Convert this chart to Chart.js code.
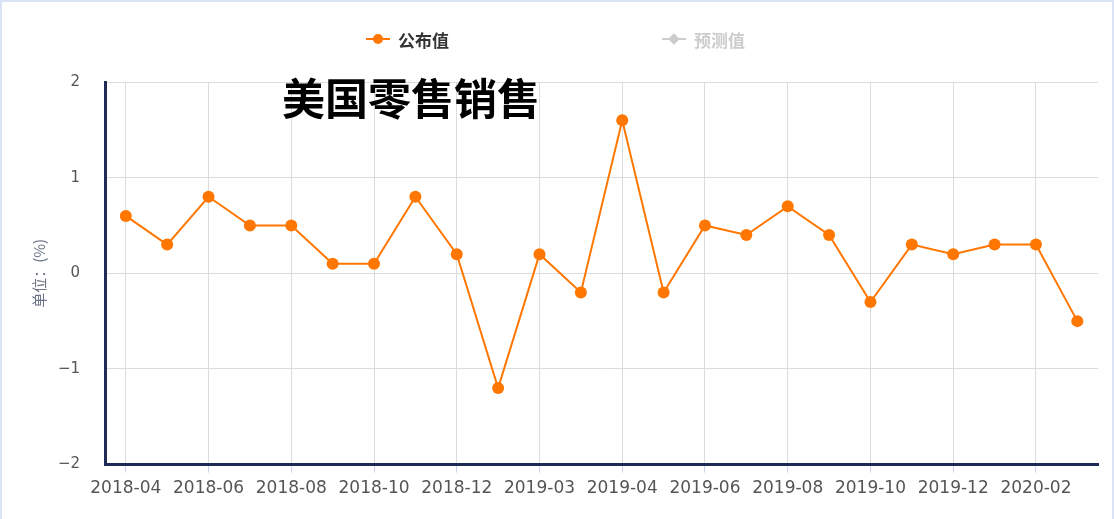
<!DOCTYPE html>
<html>
<head>
<meta charset="utf-8">
<script src="https://cdn.jsdelivr.net/npm/chart.js@4"></script>
<style>
  html, body { margin: 0; padding: 0; background: #fff; }
  #wrap {
    position: relative; width: 1114px; height: 519px; box-sizing: border-box;
    border: 2px solid #dbe3f6; border-bottom: none; overflow: hidden;
  }
  #box { position: absolute; left: -2px; top: -2px; width: 1114px; height: 519px; }
  #title {
    position: absolute; left: 280px; top: 72px; font: bold 43px "Noto Sans CJK SC", sans-serif;
    line-height: 44px; color: #000; white-space: nowrap;
  }
  .leg { position: absolute; top: 26px; height: 22px; display: flex; align-items: center;
    font: bold 17px "Noto Sans CJK SC", sans-serif; white-space: nowrap; }
  .mk { position: relative; width: 24px; height: 14px; margin-right: 8px; }
  .mk .ln { position: absolute; left: 0; right: 0; top: 6px; height: 2px; }
  .mk .dot { position: absolute; left: 7px; top: 2px; width: 10px; height: 10px; border-radius: 50%; }
  .mk .dia { position: absolute; left: 8px; top: 3px; width: 8px; height: 8px; transform: rotate(45deg); }
</style>
</head>
<body>
<div id="wrap">
  <div id="box"><canvas id="chart"></canvas></div>
  <div class="leg" style="left:364px;color:#333">
    <div class="mk"><div class="ln" style="background:#ff7700"></div><div class="dot" style="background:#ff7700"></div></div>公布值
  </div>
  <div class="leg" style="left:660px;color:#ccc">
    <div class="mk"><div class="ln" style="background:#ccc"></div><div class="dia" style="background:#ccc"></div></div>预测值
  </div>
  <div id="title">美国零售销售</div>
</div>
<script>
var months = ['2018-04', '2018-05', '2018-06', '2018-07', '2018-08', '2018-09', '2018-10', '2018-11',
    '2018-12', '2019-02', '2019-03', '2019-04', '2019-04', '2019-05', '2019-06', '2019-07',
    '2019-08', '2019-09', '2019-10', '2019-11', '2019-12', '2020-01', '2020-02', '2020-03'];
var actualValues = [0.6, 0.3, 0.8, 0.5, 0.5, 0.1, 0.1, 0.8, 0.2, -1.2, 0.2, -0.2,
    1.6, -0.2, 0.5, 0.4, 0.7, 0.4, -0.3, 0.3, 0.2, 0.3, 0.3, -0.5];
var forecastValues = [];
var yTicks = [-2, -1, 0, 1, 2];

var orange = '#ff7700';
var navy = '#1f2a55';

var ctx = document.getElementById('chart');
var chart = new Chart(ctx, {
    type: 'line',
    data: {
        labels: months,
        datasets: [{
            label: '公布值',
            data: actualValues,
            borderColor: orange,
            backgroundColor: orange,
            borderWidth: 2,
            pointRadius: 6,
            pointHoverRadius: 7,
            pointBorderWidth: 0,
            lineTension: 0,
            fill: false
        }, {
            label: '预测值',
            data: forecastValues,
            hidden: true,
            borderColor: '#ccc',
            backgroundColor: '#ccc'
        }]
    },
    options: {
        responsive: true,
        maintainAspectRatio: false,
        animation: false,
        layout: { padding: { top: 82, left: 30, right: 16, bottom: 14 } },
        plugins: {
            legend: { display: false },
            title: { display: false },
            tooltip: { enabled: true }
        },
        scales: {
            x: {
                offset: true,
                grid: { color: '#dcdcdc', tickColor: '#c9d4e8', tickLength: 8, offset: false },
                border: { color: navy, width: 3 },
                ticks: {
                    color: '#555',
                    font: { family: 'DejaVu Sans', size: 17 },
                    maxRotation: 0,
                    autoSkip: true,
                    padding: 6
                }
            },
            y: {
                min: yTicks[0],
                max: yTicks[yTicks.length - 1],
                afterBuildTicks: function (scale) {
                    scale.ticks = yTicks.map(function (v) { return { value: v }; });
                },
                grid: { color: '#dcdcdc', drawTicks: false },
                border: { color: navy, width: 3 },
                ticks: {
                    color: '#555',
                    font: { family: 'DejaVu Sans', size: 15 },
                    padding: 25,
                    callback: function (v) { return String(v).replace('-', '\u2212'); }
                },
                title: {
                    display: true,
                    text: '单位：(%)',
                    color: '#6b7488',
                    font: { family: 'Noto Sans CJK SC', size: 15 },
                    padding: { top: 0, bottom: -15 }
                }
            }
        }
    }
});
</script>
</body>
</html>
